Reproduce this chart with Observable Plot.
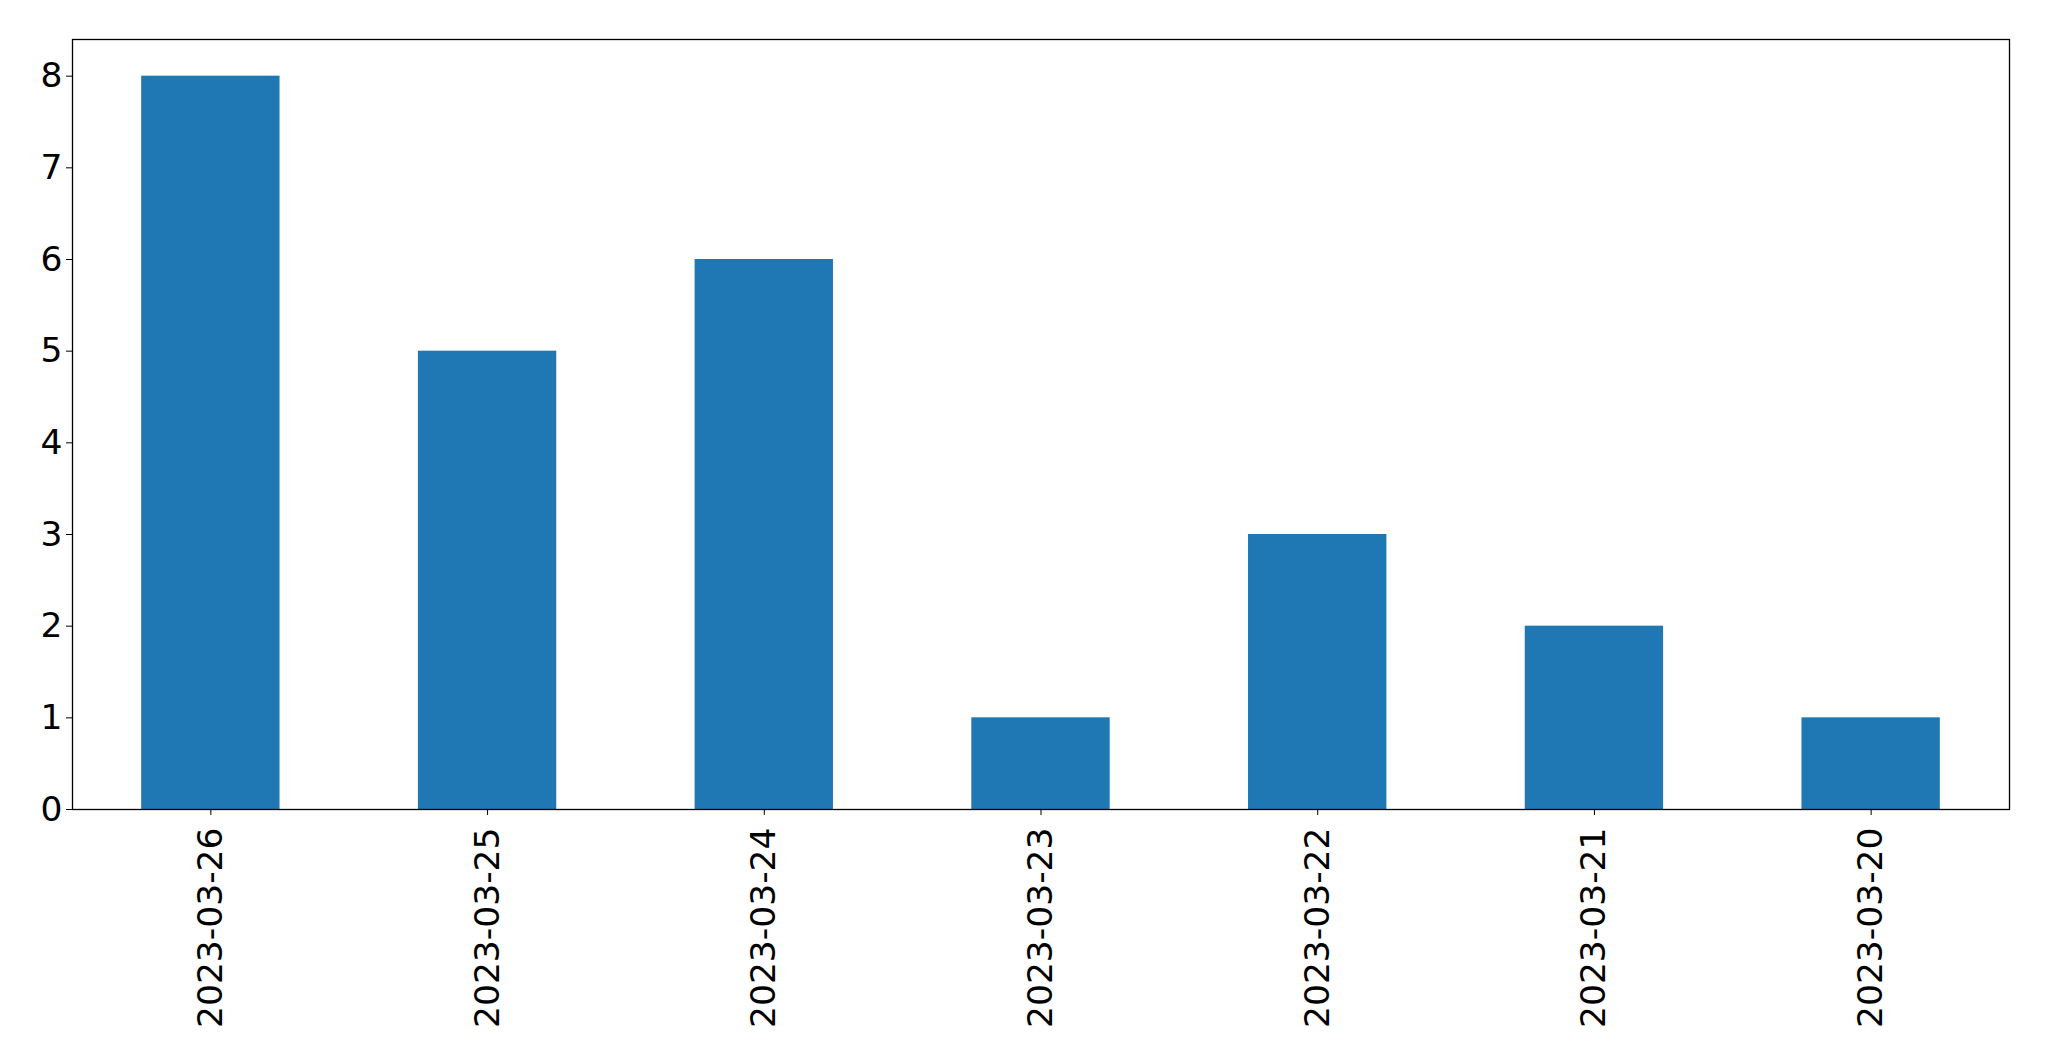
<!DOCTYPE html>
<html>
<head>
<meta charset="utf-8">
<script src="https://cdn.jsdelivr.net/npm/d3@7"></script>
<script src="https://cdn.jsdelivr.net/npm/@observablehq/plot@0.6"></script>
<style>
  html, body { margin: 0; padding: 0; background: white; }
</style>
</head>
<body>
<div id="chart"></div>
<script>
const dates = ["2023-03-26", "2023-03-25", "2023-03-24", "2023-03-23", "2023-03-22", "2023-03-21", "2023-03-20"];
const counts = [8, 5, 6, 1, 3, 2, 1];
const yTicks = [0, 1, 2, 3, 4, 5, 6, 7, 8];

const data = dates.map((d, i) => ({date: d, count: counts[i]}));

const chart = Plot.plot({
  width: 2049,
  height: 1061,
  marginLeft: 72,
  marginRight: 40,
  marginTop: 39,
  marginBottom: 252,
  style: {fontFamily: "DejaVu Sans", fontSize: "34.5px", background: "white", color: "black", overflow: "visible"},
  x: {domain: dates, paddingInner: 0.5, paddingOuter: 0.25, round: false, label: null, tickRotate: -90, tickSize: 6, tickPadding: 12},
  y: {domain: [0, 8.4], ticks: yTicks, label: null, tickSize: 6, tickPadding: 4},
  marks: [
    Plot.barY(data, {x: "date", y: "count", fill: "#1f77b4"}),
    Plot.frame({stroke: "black", strokeWidth: 1.3})
  ]
});
document.getElementById("chart").append(chart);
</script>
</body>
</html>
